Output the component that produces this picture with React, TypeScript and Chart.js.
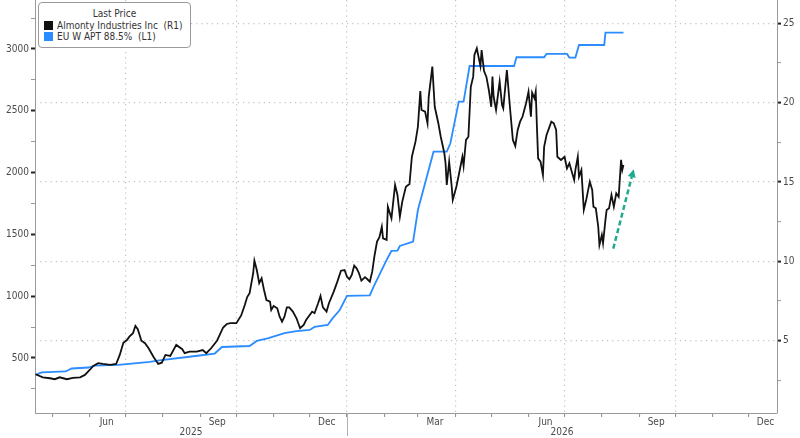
import { useEffect, useRef } from "react";
import { Chart, registerables } from "chart.js";

Chart.register(...registerables);

const FONT = '"DejaVu Sans Condensed", "DejaVu Sans", sans-serif';

// day numbers count from 1 Jan 2025
const almontyDays = [
  106, 112, 118, 122, 126, 132, 137, 143, 147, 151, 154, 158, 162, 168, 173, 176, 179, 182, 184, 187,
  189, 191, 194, 197, 200, 204, 208, 211, 214, 218, 223, 228, 230, 234, 240, 245, 248, 252, 257, 262,
  265, 268, 273, 277, 280, 282, 284, 287, 288, 290, 292, 294, 296, 298, 301, 302, 304, 307, 309, 311,
  313, 315, 317, 320, 323, 326, 329, 331, 334, 336, 338, 341, 343, 345, 348, 350, 354, 357, 360, 363,
  365, 367, 369, 371, 373, 375, 377, 380, 382, 384, 386, 388, 390, 392, 394, 395, 398, 399, 402, 405,
  407, 409, 411, 414, 417, 419, 422, 424, 426, 427, 430, 432, 433, 436, 438, 441, 443, 446, 447, 448,
  450, 452, 453, 456, 458, 461, 462, 464, 466, 468, 470, 471, 473, 476, 477, 479, 481, 483, 485, 486,
  487, 489, 492, 494, 495, 498, 501, 503, 505, 507, 509, 511, 514, 516, 518, 519, 521, 522, 523, 524,
  526, 528, 529, 531, 533, 535, 537, 539, 540, 543, 546, 548, 550, 552, 554, 555, 557, 558, 560, 562,
  564, 567, 569, 570, 572, 574, 575, 577, 578, 580, 581, 583, 585, 587, 589, 591, 593, 594, 595,
];
// Almonty Industries Inc, right axis
const almontyPrice = [
  2.88, 2.69, 2.63, 2.57, 2.69, 2.57, 2.65, 2.69, 2.84, 3.15, 3.41, 3.58, 3.53, 3.47, 3.53, 4.1, 4.87, 5.04, 5.25, 5.47,
  5.93, 5.72, 5.0, 4.84, 4.52, 3.99, 3.53, 3.61, 4.1, 4.04, 4.73, 4.46, 4.21, 4.31, 4.31, 4.41, 4.21, 4.52, 5.01, 5.83,
  6.05, 6.1, 6.1, 6.59, 7.25, 7.75, 7.99, 9.25, 10.04, 9.45, 8.62, 8.93, 8.19, 7.56, 7.46, 6.93, 7.19, 7.04, 6.51, 6.2,
  6.51, 7.1, 7.1, 6.83, 6.41, 5.78, 5.99, 6.3, 6.62, 6.83, 6.73, 7.36, 7.82, 7.1, 6.83, 7.36, 8.09, 8.72, 9.41, 9.45,
  9.03, 8.87, 9.14, 9.73, 9.56, 9.25, 8.78, 9.0, 8.87, 8.72, 9.35, 10.4, 11.24, 11.52, 12.18, 11.45, 11.35, 13.44, 12.71, 14.81,
  14.18, 12.81, 13.76, 14.7, 14.87, 16.59, 17.54, 18.48, 20.73, 19.54, 19.43, 18.7, 20.37, 22.27, 19.74, 18.7, 17.85, 16.81, 16.18, 14.81,
  16.28, 14.81, 13.87, 14.7, 15.44, 16.59, 16.01, 17.65, 17.85, 21.0, 21.64, 23.0, 23.42, 22.31, 23.32, 21.99, 21.62, 20.8, 19.74, 21.64,
  20.37, 19.54, 21.32, 19.85, 19.64, 22.06, 19.33, 17.65, 17.27, 18.28, 18.8, 19.11, 19.96, 20.69, 19.11, 20.63, 20.27, 20.69, 18.48, 16.49,
  16.28, 15.44, 17.22, 17.96, 18.38, 18.8, 18.7, 18.28, 16.59, 16.39, 16.59, 15.86, 16.18, 15.65, 15.13, 15.76, 16.59, 15.33, 15.76, 13.24,
  13.87, 15.02, 14.5, 13.44, 13.34, 12.18, 11.03, 11.66, 11.14, 12.61, 13.24, 13.34, 14.18, 13.44, 14.29, 14.07, 16.39, 15.76, 16.07,
];

const aptDays = [
  106, 111, 131, 136, 150, 155, 175, 201, 209, 239, 255, 261, 284, 290, 299, 313, 323, 334, 338, 349,
  353, 359, 365, 384, 387, 398, 402, 407, 409, 420, 424, 437, 448, 451, 458, 462, 467, 504, 506, 529,
  531, 548, 550, 555, 558, 579, 580, 595,
];
// EU W APT 88.5%, left axis
const aptPrice = [
  363, 384, 391, 415, 423, 439, 445, 468, 480, 516, 536, 589, 597, 638, 658, 702, 718, 727, 751, 767,
  820, 888, 1002, 1006, 1074, 1293, 1366, 1368, 1406, 1441, 1697, 2169, 2169, 2237, 2574, 2574, 2862, 2862, 2933, 2933,
  2960, 2960, 2930, 2930, 3032, 3032, 3132, 3132,
];

const leftLabels = [500, 1000, 1500, 2000, 2500, 3000];
const rightLabels = [5, 10, 15, 20, 25];
const monthNames = ["Jan", "Feb", "Mar", "Apr", "May", "Jun", "Jul", "Aug", "Sep", "Oct", "Nov", "Dec"];
const labelledMonths = ["Mar", "Jun", "Sep", "Dec"];
const years = [2025, 2026];

// arrow drawn over the chart: [day, right-axis value]
const arrowFrom = [586.5, 10.8];
const arrowTo = [603.5, 15.8];

const xMin = 105.5;
const xMax = 722.7;
const leftMin = 55;
const leftMax = 3396;
const rightMin = 0.44;
const rightMax = 26.47;

const dayOf = (y: number, m: number) => (Date.UTC(y, m, 1) - Date.UTC(2025, 0, 1)) / 86400000;

const months = years
  .flatMap((y) => monthNames.map((name, m) => ({ value: dayOf(y, m), name, m })))
  .filter((t) => t.value >= xMin && t.value <= xMax);

const leftTickValues = Array.from({ length: 13 }, (_, i) => 250 * (i + 1));
const rightTickValues = Array.from({ length: 10 }, (_, i) => 2.5 * (i + 1));

const gridGray = "#c2c2c2";
const axisGray = "#9a9a9a";
const labelColor = "#4a4a4a";
const black = "#111111";
const blue = "#2a8cff";
const teal = "#1fa98f";

const extras = {
  id: "extras",
  afterDraw(chart: any) {
    const { ctx, chartArea, scales } = chart;
    const x = scales.x;
    const y1 = scales.y1;
    ctx.save();
    ctx.font = `10px ${FONT}`;
    ctx.fillStyle = labelColor;
    ctx.textAlign = "center";
    ctx.textBaseline = "middle";
    years.forEach((yr) => {
      const a = Math.max(dayOf(yr, 0), xMin);
      const b = Math.min(dayOf(yr + 1, 0), xMax);
      const xa = x.getPixelForValue(a);
      const xb = x.getPixelForValue(b);
      ctx.fillText(String(yr), (xa + xb) / 2, chartArea.bottom + 19);
      if (dayOf(yr, 0) > xMin) {
        const px = Math.round(xa) + 0.5;
        ctx.strokeStyle = "#b0b0b0";
        ctx.lineWidth = 1;
        ctx.beginPath();
        ctx.moveTo(px, chartArea.bottom);
        ctx.lineTo(px, chart.height - 2);
        ctx.stroke();
      }
    });

    const p0 = { x: x.getPixelForValue(arrowFrom[0]), y: y1.getPixelForValue(arrowFrom[1]) };
    const p1 = { x: x.getPixelForValue(arrowTo[0]), y: y1.getPixelForValue(arrowTo[1]) };
    const ang = Math.atan2(p1.y - p0.y, p1.x - p0.x);
    const head = 8;
    const bx = p1.x - Math.cos(ang) * head;
    const by = p1.y - Math.sin(ang) * head;
    ctx.strokeStyle = teal;
    ctx.fillStyle = teal;
    ctx.lineWidth = 2.5;
    ctx.setLineDash([5, 3]);
    ctx.beginPath();
    ctx.moveTo(p0.x, p0.y);
    ctx.lineTo(bx, by);
    ctx.stroke();
    ctx.setLineDash([]);
    ctx.beginPath();
    ctx.moveTo(p1.x, p1.y);
    ctx.lineTo(bx + Math.sin(ang) * 4, by - Math.cos(ang) * 4);
    ctx.lineTo(bx - Math.sin(ang) * 4, by + Math.cos(ang) * 4);
    ctx.closePath();
    ctx.fill();
    ctx.restore();
  },
};

export default function App() {
  const canvasRef = useRef<HTMLCanvasElement>(null);

  useEffect(() => {
    document.body.style.margin = "0";
    const canvas = canvasRef.current;
    if (!canvas) return;
    const tickFont = { family: FONT, size: 10 };

    const chart = new Chart(canvas, {
      type: "line",
      data: {
        datasets: [
          {
            label: "Almonty Industries Inc (R1)",
            data: almontyDays.map((d, i) => ({ x: d, y: almontyPrice[i] })),
            yAxisID: "y1",
            borderColor: black,
            borderWidth: 1.8,
            pointRadius: 0,
            tension: 0,
          },
          {
            label: "EU W APT 88.5% (L1)",
            data: aptDays.map((d, i) => ({ x: d, y: aptPrice[i] })),
            yAxisID: "y",
            borderColor: blue,
            borderWidth: 1.8,
            pointRadius: 0,
            tension: 0,
          },
        ],
      },
      options: {
        responsive: false,
        animation: false,
        events: [],
        layout: { padding: 0 },
        plugins: { legend: { display: false }, tooltip: { enabled: false } },
        scales: {
          x: {
            type: "linear",
            min: xMin,
            max: xMax,
            bounds: "data",
            afterBuildTicks: (s: any) => {
              s.ticks = months.map((m) => ({ value: m.value }));
            },
            afterFit: (s: any) => {
              s.height = 25;
              s.paddingLeft = 0;
              s.paddingRight = 0;
            },
            ticks: {
              autoSkip: false,
              maxRotation: 0,
              minRotation: 0,
              padding: -1,
              labelOffset: 17,
              color: labelColor,
              font: tickFont,
              callback: (_v: any, i: number) =>
                labelledMonths.includes(months[i].name) ? months[i].name : "",
            },
            grid: {
              color: (c: any) => (months[c.index] && months[c.index].m % 3 === 0 ? gridGray : "rgba(0,0,0,0)"),
              lineWidth: 1.2,
              tickColor: "#8a8a8a",
              tickLength: 4,
              tickWidth: 1,
            },
            border: { color: axisGray, width: 1, dash: [1.2, 4] },
          },
          y: {
            position: "left",
            min: leftMin,
            max: leftMax,
            bounds: "data",
            afterBuildTicks: (s: any) => {
              s.ticks = leftTickValues.map((v) => ({ value: v }));
            },
            afterFit: (s: any) => {
              s.width = 35;
              s.paddingTop = 0;
              s.paddingBottom = 0;
            },
            ticks: {
              autoSkip: false,
              padding: 2,
              color: labelColor,
              font: tickFont,
              callback: (v: any) => (leftLabels.includes(v) ? String(v) : ""),
            },
            grid: {
              drawOnChartArea: false,
              tickLength: 4,
              tickColor: (c: any) => (c.tick && leftLabels.includes(c.tick.value) ? "#222" : "#999"),
              tickWidth: (c: any) => (c.tick && leftLabels.includes(c.tick.value) ? 2 : 1),
            },
            border: { color: axisGray, width: 1 },
          },
          y1: {
            position: "right",
            min: rightMin,
            max: rightMax,
            bounds: "data",
            afterBuildTicks: (s: any) => {
              s.ticks = rightTickValues.map((v) => ({ value: v }));
            },
            afterFit: (s: any) => {
              s.width = 23;
              s.paddingTop = 0;
              s.paddingBottom = 0;
            },
            ticks: {
              autoSkip: false,
              padding: 2,
              color: labelColor,
              font: tickFont,
              callback: (v: any) => (rightLabels.includes(v) ? String(v) : ""),
            },
            grid: {
              color: (c: any) => (c.tick && rightLabels.includes(c.tick.value) ? gridGray : "rgba(0,0,0,0)"),
              lineWidth: 1.2,
              tickLength: 4,
              tickColor: (c: any) => (c.tick && rightLabels.includes(c.tick.value) ? "#222" : "#999"),
              tickWidth: (c: any) => (c.tick && rightLabels.includes(c.tick.value) ? 2 : 1),
            },
            border: { color: axisGray, width: 1, dash: [1.2, 4] },
          },
        },
      } as any,
      plugins: [extras],
    });

    return () => {
      chart.destroy();
    };
  }, []);

  return (
    <div style={{ position: "relative", width: 800, height: 438, background: "#fff" }}>
      <canvas ref={canvasRef} width={800} height={438} style={{ position: "absolute", left: 0, top: 0 }} />
      <div
        style={{
          position: "absolute",
          left: 38,
          top: 2,
          width: 153,
          height: 46,
          boxSizing: "border-box",
          border: "1px solid #9a9a9a",
          borderRadius: 4,
          background: "#fff",
          font: `10px ${FONT}`,
          color: "#333",
        }}
      >
        <div style={{ textAlign: "center", marginTop: 5, lineHeight: "12px" }}>Last Price</div>
        <div style={{ display: "flex", alignItems: "center", height: 11, paddingLeft: 5, gap: 4, whiteSpace: "pre" }}>
          <span style={{ width: 9, height: 9, background: black, flexShrink: 0 }} />
          <span>Almonty Industries Inc  (R1)</span>
        </div>
        <div style={{ display: "flex", alignItems: "center", height: 11, paddingLeft: 5, gap: 4, whiteSpace: "pre" }}>
          <span style={{ width: 9, height: 9, background: blue, flexShrink: 0 }} />
          <span>EU W APT 88.5%  (L1)</span>
        </div>
      </div>
    </div>
  );
}
